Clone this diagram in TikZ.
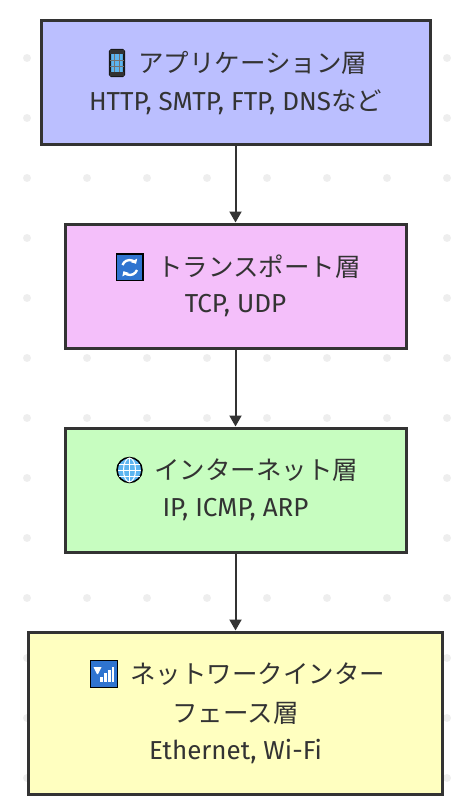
\documentclass[tikz,border=0pt]{standalone}
\usepackage{fontspec}
\setmainfont{Fira Sans}
\newfontfamily\jpfont[Scale=0.98]{Noto Sans CJK JP}
\usetikzlibrary{arrows.meta, positioning}

\begin{document}
\begin{tikzpicture}[
  x=1pt, y=-1pt,
  font=\fontsize{26}{30}\selectfont,
  kasou/.style={draw=linecol, line width=3pt, inner sep=0pt},
  midashi/.style={anchor=west, inner sep=0pt, text=linecol},
  naiyou/.style={inner sep=0pt, text=linecol},
  yajirushi/.style={draw=linecol, line width=2pt, -{Triangle[length=11pt,width=12pt]}},
  waku/.style={draw=black, line width=1.5pt}
]
\definecolor{linecol}{HTML}{333333}
\definecolor{dotcol}{HTML}{EEEEEE}
\definecolor{iconblue}{HTML}{2F74D0}
\definecolor{iconsky}{HTML}{5DB5F0}

\useasboundingbox (0,0) rectangle (465,803);

% ---- dot grid ----
\foreach \px in {27,87,...,447} {
  \foreach \py in {58,118,...,778} {
    \fill[dotcol] (\px,\py) circle (4);
  }
}

%==============================================================
% layers
%==============================================================
\node[kasou, fill={rgb,255:red,187;green,191;blue,255}, minimum width=389pt, minimum height=124pt] (appli) at (235.5,82) {};
\node[kasou, fill={rgb,255:red,244;green,191;blue,250}, minimum width=341pt, minimum height=124pt] (trans) at (235.5,286) {};
\node[kasou, fill={rgb,255:red,199;green,253;blue,192}, minimum width=341pt, minimum height=124pt] (inter) at (235.5,490) {};
\node[kasou, fill={rgb,255:red,255;green,255;blue,192}, minimum width=414pt, minimum height=162pt] (netif) at (235,713) {};

\draw[yajirushi] (appli.south) -- (trans.north);
\draw[yajirushi] (trans.south) -- (inter.north);
\draw[yajirushi] (inter.south) -- (inter.south |- netif.north);

% ---- texts ----
\node[midashi] (appliT) at (138,63) {\jpfont アプリケーション層};
\node[naiyou] (appliS) at (235.5,102) {HTTP, SMTP, FTP, DNS{\jpfont など}};
\node[midashi] (transT) at (157,267) {\jpfont トランスポート層};
\node[naiyou] (transS) at (235.5,306) {TCP, UDP};
\node[midashi] (interT) at (154,470) {\jpfont インターネット層};
\node[naiyou] (interS) at (235.5,510) {IP, ICMP, ARP};
\node[midashi] (netifT) at (130,674) {\jpfont ネットワークインター};
\node[naiyou] (netifM) at (235.5,713) {\jpfont フェース層};
\node[naiyou] (netifS) at (235.5,752) {Ethernet, Wi-Fi};

%==============================================================
% icons
%==============================================================
% phone
\draw[waku, fill=iconsky, rounded corners=1.5pt, line width=2.4pt, draw=black!90] (110,50) rectangle (124,76);
\fill[black!80] (110,50) rectangle (124,54);
\fill[black!80] (110,72) rectangle (124,76);
\draw[black!55, line width=1pt] (114.5,54) -- (114.5,72) (119.5,54) -- (119.5,72) (110,60) -- (124,60) (110,66) -- (124,66);

% refresh
\draw[waku, fill=iconblue] (116.5,254) rectangle (143,280.5);
\draw[white, line width=2.4pt, -{Triangle[length=4pt,width=7pt]}] (122.5,265) arc[start angle=-160, end angle=-30, radius=7.5];
\draw[white, line width=2.4pt, -{Triangle[length=4pt,width=7pt]}] (137,270) arc[start angle=20, end angle=150, radius=7.5];

% globe
\draw[waku, fill=iconsky] (129.5,470) circle (12.5);
\draw[white, line width=1pt] (129.5,458) -- (129.5,482) (118,470) -- (141,470) (119,464) -- (140,464) (119,476) -- (140,476);
\draw[white, line width=1pt] (129.5,470) ellipse (6 and 12);

% signal
\draw[waku, fill=iconblue] (90.5,660.5) rectangle (117.5,687.5);
\foreach \bx/\by in {101.5/677, 105.5/673, 109.5/670, 113/667} {
  \fill[white] (\bx-1.1,\by) rectangle (\bx+1.1,682);
}
\fill[white] (93.5,667) -- (101.5,667) -- (98,674) -- (97,674) -- cycle;

\end{tikzpicture}
\end{document}
